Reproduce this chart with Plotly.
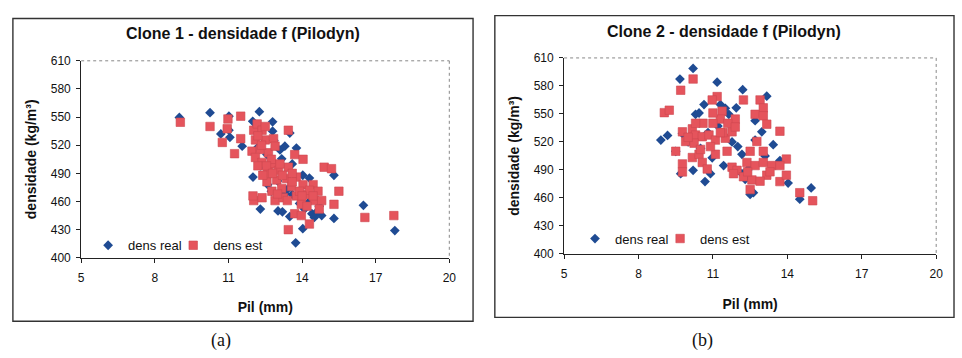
import plotly.graph_objects as go

# Clone 1: wood density vs Pilodyn penetration
pil1_real = [9.0, 10.25, 11.02, 10.69, 11.02, 11.06, 11.56, 11.99, 12.26, 12.8, 12.8, 12.17, 12.57,
             13.1, 13.3, 13.77, 13.17, 13.6, 12.0, 14.03, 14.3, 15.3, 12.6, 13.4, 13.6, 12.3, 13.02,
             13.2, 13.5, 14.1, 14.4, 14.8, 15.3, 14.03, 13.74, 16.5, 17.78, 13.5, 12.85, 14.6, 12.45,
             12.75, 14.5, 12.3, 13.0, 13.9, 14.7, 14.3, 13.3]
dens1_real = [549.6, 554.7, 551, 532, 536, 528.5, 519, 545.5, 555.7, 545, 535, 517, 510,
              515, 519, 517, 505.5, 500, 486, 488, 485, 488, 478, 473, 467.6, 452, 450,
              449, 444, 452, 447, 445, 442, 431, 416, 456, 429, 533, 525, 449, 498,
              471, 443, 498, 482, 458, 455, 460, 468]
pil1_est = [9.04, 10.25, 10.98, 10.95, 10.75, 11.25, 11.5, 11.5, 12.03, 12.17, 12.37, 12.1, 12.5,
            12.84, 11.96, 12.3, 12.1, 12.63, 12.9, 12.37, 12.77, 13.44, 13.7, 14.04, 12.63, 13.04,
            13.44, 12.57, 12.97, 13.37, 13.77, 12.77, 13.17, 13.57, 14.04, 14.45, 14.65, 14.2, 12.9,
            13.24, 13.77, 14.5, 14.8, 13.97, 12.03, 12.37, 14.9, 15.2, 15.5, 15.3, 13.44, 14.3, 13.7,
            13.97, 16.56, 17.74, 12.0, 12.2, 12.6,
            12.2, 12.5, 12.35, 12.75, 12.55, 12.8, 13.2, 13.6, 13.0, 13.4, 13.9, 14.3, 14.2, 14.7,
            13.6, 13.1, 12.4, 14.0, 14.45]
dens1_est = [544.5, 540, 548, 537.6, 523, 511, 551, 527, 536, 542.7, 536, 525.7, 525.7,
             527, 513.7, 515.5, 507, 512, 519, 501.7, 500, 536, 510, 505, 491.5, 493,
             496.6, 481, 483, 484.6, 486, 471, 474, 476, 478, 478, 471, 467.6, 461,
             464, 466, 461, 461, 457, 461, 464, 496.6, 495, 471, 457, 430, 436, 447,
             445, 443, 445, 466, 498, 490,
             530, 540, 520, 505, 498, 490, 488, 490, 468, 461, 471, 472, 455, 452,
             481, 500, 488, 466, 466]

# Clone 2
pil2_real = [10.2, 9.67, 11.17, 10.64, 10.3, 10.44, 8.9, 9.17, 9.5, 9.7, 10.2, 10.68, 11.43, 10.9,
             10.97, 9.77, 12.2, 13.17, 11.94, 12.7, 12.97, 12.7, 13.43, 12.17, 13.7, 14.03, 12.5,
             12.63, 14.96, 14.5, 11.5, 11.64, 12.17, 12.5, 11.77, 10.5, 11.2, 13.1, 13.6, 12.4,
             10.0, 10.8, 11.3, 12.0, 12.3]
dens2_real = [598.8, 587.4, 584, 560, 549.6, 551, 522, 527, 510, 486, 489.6, 477.6, 494.7, 486,
              503, 529, 576, 569, 556.5, 542.8, 530.8, 522, 517, 506.8, 500, 476, 463.8,
              465.6, 470.7, 458.7, 556, 549.6, 486, 494.7, 520, 513, 537, 505, 496, 490,
              520, 530, 560, 515, 480]
pil2_est = [10.2, 9.7, 9.04, 9.24, 11.17, 10.97, 11.37, 11.3, 9.77, 10.17, 10.3, 10.57, 10.84, 9.9,
            10.24, 11.1, 11.5, 11.77, 9.5, 9.77, 9.77, 10.17, 10.44, 10.57, 10.77, 11.1, 11.57,
            11.77, 12.23, 12.9, 13.03, 12.7, 13.03, 13.17, 13.7, 11.9, 13.96, 12.77, 13.03, 12.5,
            12.37, 12.7, 13.03, 13.37, 13.7, 11.97, 11.83, 12.23, 12.57, 12.5, 13.17, 13.7, 13.96,
            14.5, 15.02, 11.0, 11.4, 10.6,
            10.0, 10.5, 10.9, 11.3, 11.6, 11.9, 12.4, 12.9, 13.3, 10.3, 11.0]
dens2_est = [587.4, 575.4, 551.4, 554, 568.6, 565, 553, 544.5, 530.8, 534, 527.4, 525.6, 527.4, 520.5,
             518.7, 522, 524, 530.8, 510, 496.5, 487.9, 503.3, 506.8, 498, 491, 506.8, 510,
             493, 565, 565, 556.5, 549.6, 548, 539, 531.5, 544.5, 501.6, 520.5, 510, 510,
             498, 494.7, 498, 494.7, 494.7, 489.6, 486, 482.7, 479.3, 469, 484.4, 477.5, 484.4,
             465.6, 457, 540, 530, 540,
             525, 512, 515, 530, 540, 536, 488, 478, 488, 540, 551]

titles = ["Clone 1 - densidade f (Pilodyn)", "Clone 2 - densidade f (Pilodyn)"]
panel_labels = ["(a)", "(b)"]
series_names = ["dens real", "dens est"]
x_ticks = [5, 8, 11, 14, 17, 20]
y_ticks = [400, 430, 460, 490, 520, 550, 580, 610]

BLUE = "#1f4b93"
RED = "#e5545c"
FONT = "Liberation Sans, Arial, sans-serif"
W, H = 962, 358

def px(x):
    return x / W

def py(y):
    return 1 - y / H

# plot areas and chart frames in pixel coordinates (left, top, right, bottom)
plot_boxes = [(79, 56, 451, 261), (567, 53, 943, 257)]
frames = [(10, 12, 475, 327), (497, 9, 961, 323)]
# one legend per series: (left x of "real" entry, left x of "est" entry, centre y)
legend_pos = [(86, 172, 248), (578, 664, 241)]

fig = go.Figure()
data = [(pil1_real, dens1_real, pil1_est, dens1_est), (pil2_real, dens2_real, pil2_est, dens2_est)]

legend_style = dict(orientation="h", xanchor="left", yanchor="middle",
                    bgcolor="rgba(0,0,0,0)", borderwidth=0, itemwidth=30,
                    font=dict(family=FONT, size=13, color="#111"),
                    tracegroupgap=0, itemclick=False)
legends = {}
shapes = []
annotations = []
for i, (xr, yr, xe, ye) in enumerate(data):
    n = "" if i == 0 else "2"
    leg_real = "legend" if i == 0 else "legend3"
    leg_est = "legend2" if i == 0 else "legend4"
    lx_real, lx_est, ly = legend_pos[i]
    legends[leg_real] = dict(legend_style, x=px(lx_real), y=py(ly))
    legends[leg_est] = dict(legend_style, x=px(lx_est), y=py(ly))
    fig.add_trace(go.Scatter(x=xr, y=yr, mode="markers", name=series_names[0],
                             xaxis="x" + n, yaxis="y" + n, legend=leg_real,
                             marker=dict(symbol="diamond", size=7.5, color=BLUE,
                                         line=dict(width=0))))
    fig.add_trace(go.Scatter(x=xe, y=ye, mode="markers", name=series_names[1],
                             xaxis="x" + n, yaxis="y" + n, legend=leg_est,
                             marker=dict(symbol="square", size=8.5, color=RED,
                                         line=dict(width=0.6, color="#cf4850"))))
    l, t, r, b = plot_boxes[i]
    fl, ft, fr, fb = frames[i]
    ax = dict(domain=[px(l), px(r)], range=[5, 20], tickvals=x_ticks, showgrid=False,
              zeroline=False, showline=True, linecolor="#222", linewidth=1,
              ticks="outside", ticklen=4, tickcolor="#222", ticklabelstandoff=5,
              tickfont=dict(family=FONT, size=12, color="#111"),
              title=dict(text="<b>Pil (mm)</b>", font=dict(family=FONT, size=14, color="#111"),
                         standoff=18),
              anchor="y" + n)
    ay = dict(domain=[py(b), py(t)], range=[400, 610], tickvals=y_ticks, showgrid=False,
              zeroline=False, showline=True, linecolor="#222", linewidth=1,
              ticks="outside", ticklen=4, tickcolor="#222", ticklabelstandoff=3,
              tickfont=dict(family=FONT, size=12, color="#111"),
              title=dict(text="<b>densidade (kg/m³)</b>", font=dict(family=FONT, size=14, color="#111"),
                         standoff=10),
              anchor="x" + n)
    fig.update_layout({"xaxis" + n: ax, "yaxis" + n: ay})

    # chart frame
    shapes.append(dict(type="rect", xref="paper", yref="paper",
                       x0=px(fl), x1=px(fr), y0=py(fb), y1=py(ft),
                       line=dict(color="#333", width=1.4), layer="below"))
    # dotted plot-area border on top and right
    shapes.append(dict(type="line", xref="paper", yref="paper",
                       x0=px(l), x1=px(r), y0=py(t), y1=py(t),
                       line=dict(color="#888", width=1, dash="dot")))
    shapes.append(dict(type="line", xref="paper", yref="paper",
                       x0=px(r), x1=px(r), y0=py(t), y1=py(b),
                       line=dict(color="#888", width=1, dash="dot")))
    annotations.append(dict(text="<b>" + titles[i] + "</b>", xref="paper", yref="paper",
                            x=px((fl + fr) / 2), y=py(ft + 16), showarrow=False,
                            xanchor="center", yanchor="middle",
                            font=dict(family=FONT, size=16, color="#111")))
    annotations.append(dict(text=panel_labels[i], xref="paper", yref="paper",
                            x=px((fl + fr) / 2 - 22), y=py(347), showarrow=False,
                            xanchor="center", yanchor="middle",
                            font=dict(family="Liberation Serif, serif", size=18, color="#111")))

fig.update_layout(
    width=W, height=H, margin=dict(l=0, r=0, t=0, b=0),
    paper_bgcolor="white", plot_bgcolor="white",
    showlegend=True,
    shapes=shapes, annotations=annotations,
    **legends,
)

fig.write_html("out.html")
